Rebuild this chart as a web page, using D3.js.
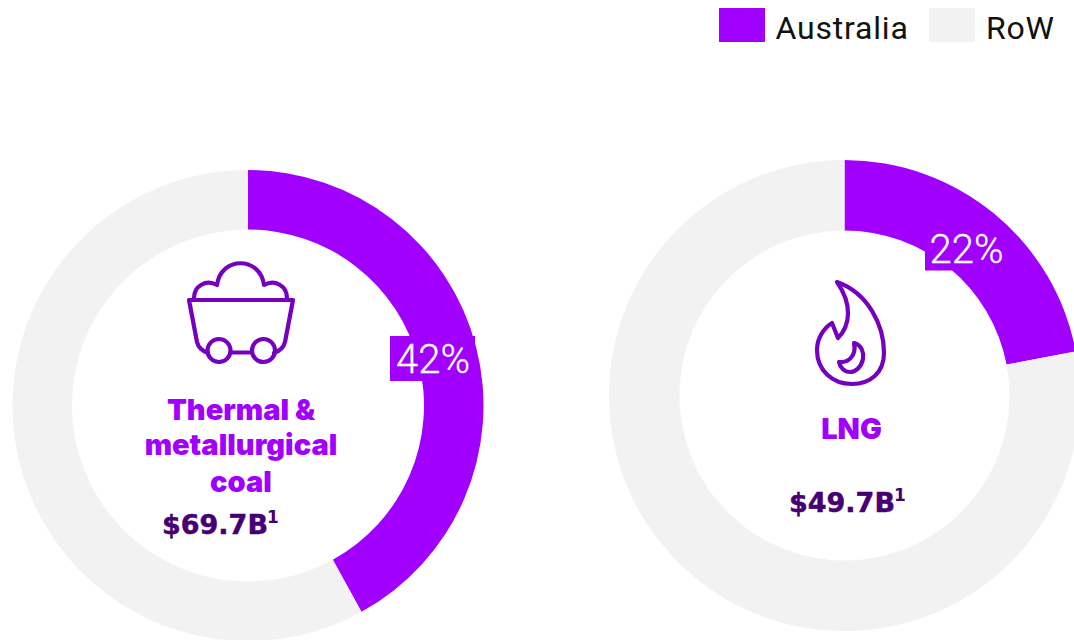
<!DOCTYPE html>
<html>
<head>
<meta charset="utf-8">
<script src="https://cdn.jsdelivr.net/npm/d3@7"></script>
<style>
  html, body { margin: 0; padding: 0; background: #fff; overflow: hidden; }
  svg { display: block; }
</style>
</head>
<body>
<div id="chart"></div>
<script>
// Chart data
const seriesNames = ['Australia', 'RoW'];
const seriesColors = ['#A100FF', '#F2F2F2'];
const australiaShare = [42, 22];
const rowShare = [58, 78];
const shareLabels = ['42%', '22%'];
const amounts = ['$69.7B', '$49.7B'];
const titles = [['Thermal &', 'metallurgical', 'coal'], ['LNG']];

const width = 1074;
const height = 640;
const titleFont = 'Inter, sans-serif';
const amountFont = '"DejaVu Sans", sans-serif';
const lightFont = 'Roboto, sans-serif';

const svg = d3.select('#chart')
  .append('svg')
  .attr('width', width)
  .attr('height', height);

const color = d3.scaleOrdinal().domain(seriesNames).range(seriesColors);
const pie = d3.pie().sort(null).value(d => d.value);

// Layout of each panel
const panels = [
  { cx: 248, cy: 405.5, inner: 176, label: [432.5, 358.5, 85, 45],
    titleX: 241, titleY: [420, 455, 491.5], amountX: 162, amountY: 533.5, supY: 523 },
  { cx: 844.5, cy: 395.5, inner: 165, label: [966, 248, 82, 45],
    titleX: 851.5, titleY: [439], amountX: 789, amountY: 511.5, supY: 501 }
];

panels.forEach((p, i) => {
  const g = svg.append('g').attr('transform', `translate(${p.cx},${p.cy})`);
  const arc = d3.arc().innerRadius(p.inner).outerRadius(235.5);
  const slices = [
    { name: seriesNames[0], value: australiaShare[i] },
    { name: seriesNames[1], value: rowShare[i] }
  ];

  // Donut
  g.selectAll('path')
    .data(pie(slices))
    .enter()
    .append('path')
    .attr('d', arc)
    .attr('fill', d => color(d.data.name));

  // Share label on a purple box
  svg.append('rect')
    .attr('x', p.label[0] - p.label[2] / 2)
    .attr('y', p.label[1] - p.label[3] / 2)
    .attr('width', p.label[2])
    .attr('height', p.label[3])
    .attr('fill', seriesColors[0]);

  svg.append('text')
    .attr('x', p.label[0] + 0.5)
    .attr('y', p.label[1] + 14.5)
    .attr('text-anchor', 'middle')
    .attr('font-family', lightFont)
    .attr('font-weight', 300)
    .attr('font-size', 40)
    .attr('stroke', '#fff')
    .attr('stroke-width', 0.3)
    .attr('fill', '#fff')
    .text(shareLabels[i]);

  // Title lines
  titles[i].forEach((line, j) => {
    svg.append('text')
      .attr('x', p.titleX)
      .attr('y', p.titleY[j])
      .attr('text-anchor', 'middle')
      .attr('font-family', titleFont)
      .attr('font-weight', 900)
      .attr('font-size', 29)
      .attr('fill', seriesColors[0])
      .text(line);
  });

  // Amount with footnote mark
  const amount = svg.append('text')
    .attr('x', p.amountX)
    .attr('y', p.amountY)
    .attr('font-family', amountFont)
    .attr('font-weight', 700)
    .attr('font-size', 27)
    .attr('stroke', '#460073')
    .attr('stroke-width', 0.5)
    .attr('fill', '#460073')
    .text(amounts[i]);

  svg.append('text')
    .attr('x', p.amountX + amount.node().getComputedTextLength() - 1)
    .attr('y', p.supY)
    .attr('font-family', amountFont)
    .attr('font-weight', 700)
    .attr('font-size', 17)
    .attr('fill', '#460073')
    .text('1');
});

// Icons
const icons = svg.append('g')
  .attr('fill', 'none')
  .attr('stroke', '#7500C0')
  .attr('stroke-width', 4.2)
  .attr('stroke-linejoin', 'round')
  .attr('stroke-linecap', 'round');

icons.append('path')
  .attr('d', 'M189,300H293L285,342Q283,350 274,353M189,300L197,342Q199,350 208,353M231,352.5H252'
    + 'M194,298C194,286 206,279 217,285C221,256 260,256 264,285C275,279 287,286 287,298');
icons.selectAll('circle')
  .data([219, 263.5])
  .enter()
  .append('circle')
  .attr('cx', d => d)
  .attr('cy', 350.5)
  .attr('r', 11.5);

icons.append('path')
  .attr('d', 'M837,282C868,293 884,325 884,353C884,373 870,384 852,384C832,384 817,370 817,350'
    + 'C817,338 824,328 832,323L838,338C850,326 853,305 837,282Z');
icons.append('path')
  .attr('d', 'M854,343C862,345 864,353 863,359C861,368 855,372 850,372C844,372 840,367 839,362'
    + 'C847,363 857,357 854,343Z');

// Legend
const legendX = [719, 929];
const legendTextX = [775.5, 986];
const legend = svg.selectAll('.legend')
  .data(seriesNames)
  .enter()
  .append('g')
  .attr('class', 'legend');

legend.append('rect')
  .attr('x', (d, i) => legendX[i])
  .attr('y', 8)
  .attr('width', 46)
  .attr('height', 34)
  .attr('fill', d => color(d));

legend.append('text')
  .attr('x', (d, i) => legendTextX[i])
  .attr('y', 39)
  .attr('font-family', lightFont)
  .attr('font-size', 32)
  .attr('letter-spacing', 0.8)
  .attr('fill', '#111')
  .text(d => d);
</script>
</body>
</html>
